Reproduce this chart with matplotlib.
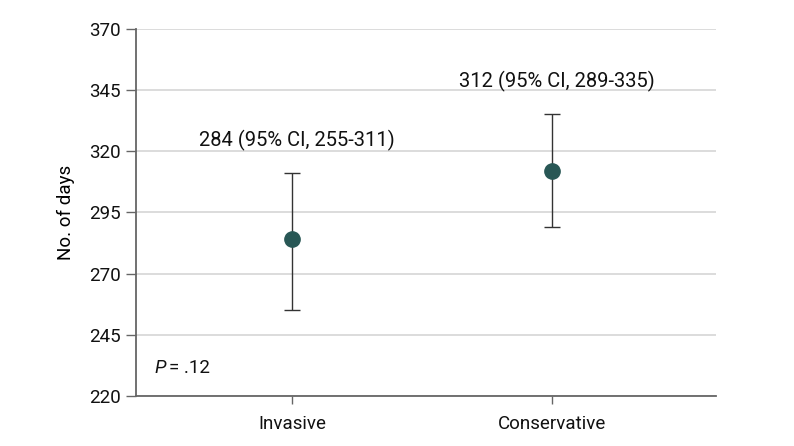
import numpy as np
import matplotlib.pyplot as plt

plt.rcParams['font.family'] = ['Roboto', 'DejaVu Sans']

groups = ['Invasive', 'Conservative']
means = [284, 312]
ci_low = [255, 289]
ci_high = [311, 335]
yticks = [220, 245, 270, 295, 320, 345, 370]
p_text = '= .12'


def main():
    fig = plt.figure(figsize=(7.94, 4.46), dpi=100)
    ax = fig.add_axes([136/794, 1 - 396/446, 580/794, (396 - 28.7)/446])

    x = np.arange(len(groups))
    m = np.array(means)
    err = [m - np.array(ci_low), np.array(ci_high) - m]
    ax.errorbar(x, m, yerr=err, fmt='none', ecolor='#333333', elinewidth=1.0,
                capsize=6, capthick=1.0, zorder=3)
    ax.plot(x, m, 'o', color='#285755', markersize=11, zorder=4)

    # CI labels above each bar
    for xi, mu, lo, hi in zip(x, means, ci_low, ci_high):
        ax.text(xi + 0.02, hi + 9, f'{mu} (95% CI, {lo}-{hi})', ha='center',
                va='bottom', fontsize=14.5, color='#111111')

    ax.text(-0.53, 231.5, 'P', style='italic', fontsize=13.5, va='center', color='#111111')
    ax.text(-0.475, 231.5, p_text, fontsize=13.5, va='center', color='#111111')

    ax.set_xlim(-0.6, 1.63)
    ax.set_ylim(220, 370)
    ax.set_yticks(yticks)
    ax.set_xticks(x)
    ax.set_xticklabels(groups)
    ax.set_ylabel('No. of days', fontsize=13.5, labelpad=10)

    ax.grid(True, axis='y', color='#d9d9d9', linewidth=1.3)
    ax.set_axisbelow(True)
    for s in ['top', 'right']:
        ax.spines[s].set_visible(False)
    for s in ['left', 'bottom']:
        ax.spines[s].set_color('#666666')
        ax.spines[s].set_linewidth(1.3)
    ax.tick_params(axis='y', length=7, width=1, color='#666666', labelsize=13.5,
                   labelcolor='#111111', pad=4)
    ax.tick_params(axis='x', length=6, width=1, color='#666666', labelsize=13.5,
                   labelcolor='#111111', pad=8)

    fig.savefig('out.png', dpi=100)


if __name__ == "__main__":
    main()
